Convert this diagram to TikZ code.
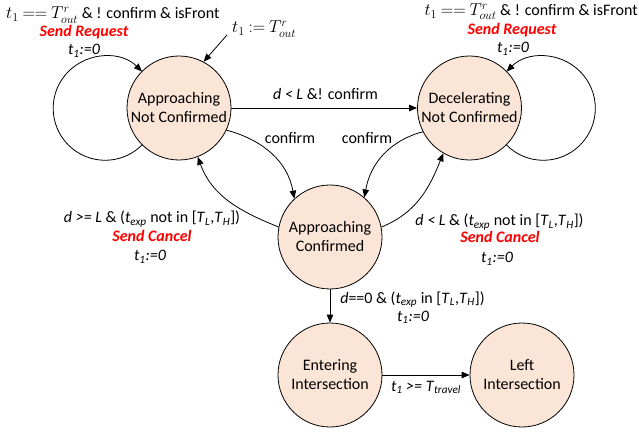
\documentclass[tikz,border=0pt]{standalone}
\usepackage{fontspec}
\setmainfont{Carlito}
\usetikzlibrary{arrows.meta}
\definecolor{peach}{HTML}{FBE5D6}
\newcommand{\isub}[2]{\textit{#1}\textsubscript{\textit{#2}}}
\newcommand{\smath}[1]{{\fontsize{16.5}{19}\selectfont\thickmuskip=4mu$#1$}}
\begin{document}
\begin{tikzpicture}[x=1pt,y=1pt,
 state/.style={circle, draw, fill=peach, minimum size=104pt, inner sep=0pt, align=center, font=\fontsize{16}{19}\selectfont, line width=0.8pt},
 arr/.style={-{Triangle[length=8pt,width=6.5pt]}, line width=0.8pt},
 lab/.style={font=\fontsize{16}{19}\selectfont, anchor=base, inner sep=0pt},
 act/.style={lab, text=red, font=\fontsize{16}{19}\selectfont\bfseries\itshape}]
\useasboundingbox (0,0) rectangle (639,431);
% states
\node[state] (anc) at (179,323) {Approaching\\Not Confirmed};
\node[state] (dnc) at (469.5,323) {Decelerating\\Not Confirmed};
\node[state] (ac) at (330,194) {Approaching\\Confirmed};
\node[state] (ei) at (330,56) {Entering\\Intersection};
\node[state] (li) at (522,56) {Left\\Intersection};
% labels
\node[lab, anchor=base west] (tl1) at (6,412) {\smath{t_1 == T_{out}^{r}} \& ! confirm \& isFront};
\node[act] (tl2) at (84,394) {Send Request};
\node[lab] (tl3) at (84,376) {\isub{t}{1}\textit{:=0}};
\node[lab, anchor=base east] (tr1) at (638,415.5) {\smath{t_1 == T_{out}^{r}} \& ! confirm \& isFront};
\node[act] (tr2) at (512,396.5) {Send Request};
\node[lab] (tr3) at (513,378) {\isub{t}{1}\textit{:=0}};
\node[lab, anchor=base west] (ini) at (232,398) {\smath{t_1 := T_{out}^{r}}};
\coordinate (inistart) at (227,396);
\node[lab] (lmid) at (325.5,331) {\textit{d < L} \&! confirm};
\node[lab] (lc1) at (290,287) {confirm};
\node[lab] (lc2) at (367,287) {confirm};
\node[lab] (bl1) at (152,208) {\textit{d >= L} \& (\isub{t}{exp} not in [\isub{T}{L},\isub{T}{H}])};
\node[act] (bl2) at (152,189) {Send Cancel};
\node[lab] (bl3) at (150,170) {\isub{t}{1}\textit{:=0}};
\node[lab] (br1) at (499.5,205) {\textit{d < L} \& (\isub{t}{exp} not in [\isub{T}{L},\isub{T}{H}])};
\node[act] (br2) at (500,188) {Send Cancel};
\node[lab] (br3) at (497,168) {\isub{t}{1}\textit{:=0}};
\node[lab] (bd1) at (412.5,128) {\textit{d}==0 \& (\isub{t}{exp} in [\isub{T}{L},\isub{T}{H}])};
\node[lab] (bd2) at (413,110) {\isub{t}{1}\textit{:=0}};
\node[lab] (bt) at (426,40) {\isub{t}{1} \textit{>=} \isub{T}{travel}};
% connectors
\draw[arr] (inistart) -- (anc.62);
\draw[arr] (anc) -- (dnc);
\draw[arr] (anc.-25) to[out=-15, in=100] (ac.133);
\draw[arr] (ac.169) to[out=158, in=-70] (anc.-69);
\draw[arr] (dnc.-153) to[out=-165, in=80] (ac.49);
\draw[arr] (ac.11) to[out=22, in=-112] (dnc.-120);
\draw[arr] (ac) -- (ei);
\draw[arr] (ei) -- (li);
\draw[arr] (anc.225) arc[start angle=-45, end angle=-315, radius=52pt];
\draw[arr] (dnc.-45) arc[start angle=-135, end angle=135, radius=52pt];
\end{tikzpicture}
\end{document}
